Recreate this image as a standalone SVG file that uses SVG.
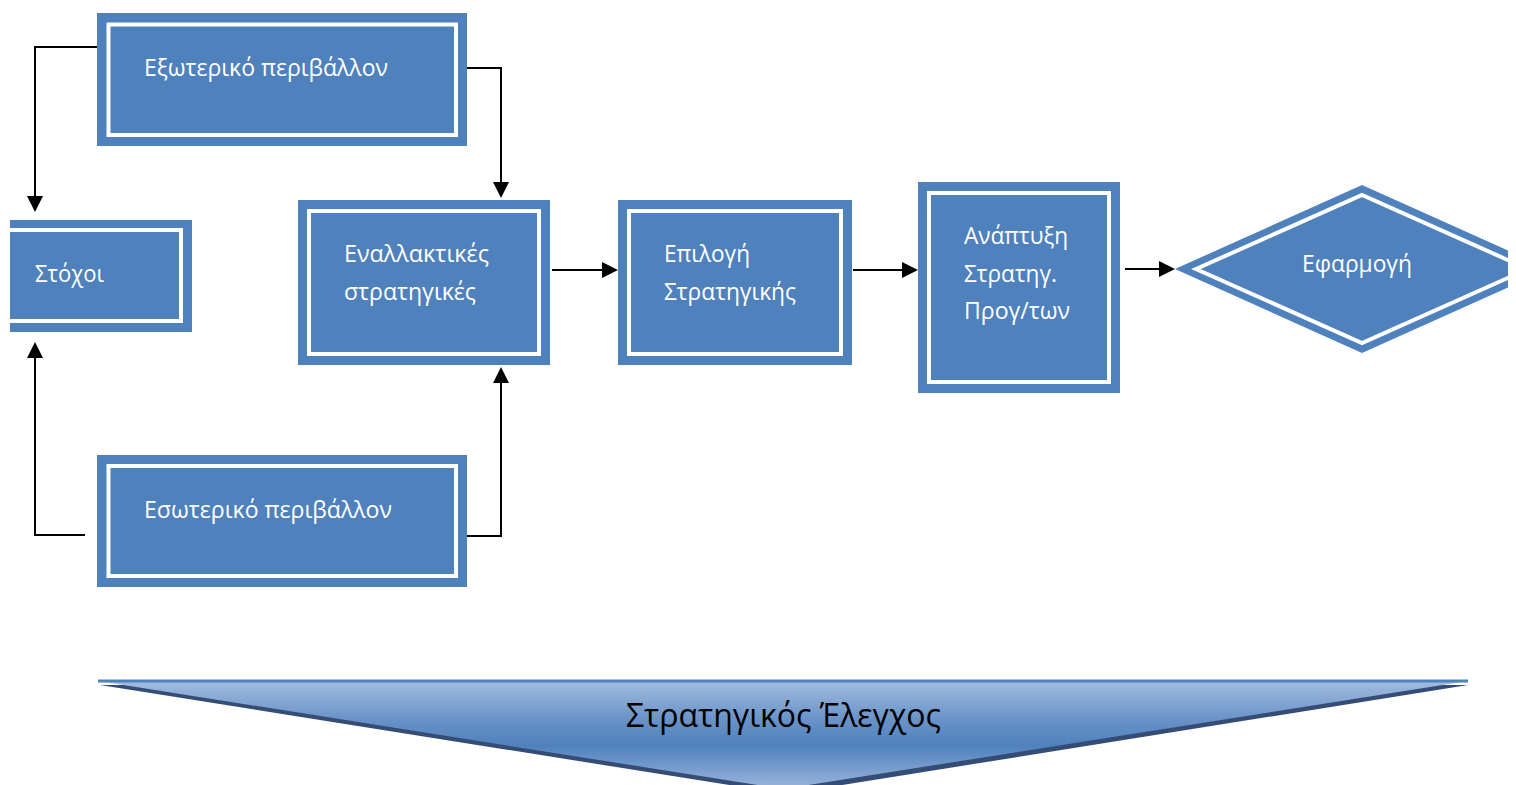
<svg xmlns="http://www.w3.org/2000/svg" width="1516" height="785" viewBox="0 0 1516 785">
  <style>
    .box { fill: #4F81BD; }
    .rim { fill: none; stroke: #FFFFFF; stroke-width: 4; }
    .lbl { font-family: "Open Sans", "Noto Sans", sans-serif; font-size: 23.5px; fill: #FFFFFF; }
    .wire { fill: none; stroke: #000000; stroke-width: 2; }
    .head { fill: #000000; }
    .ctl { font-family: "Open Sans", "Noto Sans", sans-serif; font-size: 33px; fill: #000000; }
  </style>
  <defs>
    <clipPath id="leftCut"><rect x="10" y="0" width="1506" height="785"/></clipPath>
    <clipPath id="rightCut"><rect x="0" y="0" width="1508" height="785"/></clipPath>
    <linearGradient id="ctlFill" x1="0" y1="0" x2="0" y2="1" gradientUnits="objectBoundingBox">
      <stop offset="0" stop-color="#A3BDDF"/>
      <stop offset="0.35" stop-color="#6A93C8"/>
      <stop offset="0.6" stop-color="#4F81BD"/>
      <stop offset="1" stop-color="#9BB6DC"/>
    </linearGradient>
  </defs>

  <!-- connectors -->
  <g id="connectors">
    <polyline class="wire" points="97,47 35,47 35,197"/>
    <polygon class="head" points="27,196 43,196 35,212"/>
    <polyline class="wire" points="467,68 501,68 501,183"/>
    <polygon class="head" points="493,182 509,182 501,198"/>
    <polyline class="wire" points="85,535 35,535 35,357"/>
    <polygon class="head" points="27,358 43,358 35,342"/>
    <polyline class="wire" points="454,536 501,536 501,382"/>
    <polygon class="head" points="493,383 509,383 501,367"/>
    <line class="wire" x1="552" y1="270" x2="603" y2="270"/>
    <polygon class="head" points="602,262 602,278 618,270"/>
    <line class="wire" x1="853" y1="270" x2="903" y2="270"/>
    <polygon class="head" points="902,262 902,278 918,270"/>
    <line class="wire" x1="1125" y1="269" x2="1160" y2="269"/>
    <polygon class="head" points="1159,261 1159,277 1175,269"/>
  </g>

  <g id="node-external">
    <rect class="box" x="97" y="13" width="370" height="133"/>
    <rect class="rim" x="108.5" y="24.5" width="347.5" height="110.5"/>
    <text class="lbl" x="144" y="76" textLength="244" lengthAdjust="spacingAndGlyphs">Εξωτερικό περιβάλλον</text>
  </g>

  <g id="node-goals" clip-path="url(#leftCut)">
    <rect class="box" x="0" y="220" width="192" height="112"/>
    <rect class="rim" x="-5" y="230" width="186" height="91"/>
    <text class="lbl" x="35" y="282" textLength="69" lengthAdjust="spacingAndGlyphs">Στόχοι</text>
  </g>

  <g id="node-alternatives">
    <rect class="box" x="298" y="200" width="252" height="165"/>
    <rect class="rim" x="309" y="211" width="230" height="143"/>
    <text class="lbl" x="344" y="262" textLength="145" lengthAdjust="spacingAndGlyphs">Εναλλακτικές</text>
    <text class="lbl" x="344" y="300" textLength="132" lengthAdjust="spacingAndGlyphs">στρατηγικές</text>
  </g>

  <g id="node-internal">
    <rect class="box" x="97" y="455" width="370" height="132"/>
    <rect class="rim" x="108.5" y="466" width="347.5" height="110"/>
    <text class="lbl" x="144" y="518" textLength="248" lengthAdjust="spacingAndGlyphs">Εσωτερικό περιβάλλον</text>
  </g>

  <g id="node-choice">
    <rect class="box" x="618" y="200" width="234" height="165"/>
    <rect class="rim" x="629" y="211" width="212" height="143"/>
    <text class="lbl" x="664" y="262" textLength="86" lengthAdjust="spacingAndGlyphs">Επιλογή</text>
    <text class="lbl" x="664" y="300" textLength="132" lengthAdjust="spacingAndGlyphs">Στρατηγικής</text>
  </g>

  <g id="node-programs">
    <rect class="box" x="918" y="182" width="202" height="211"/>
    <rect class="rim" x="929" y="193" width="180" height="189"/>
    <text class="lbl" x="964" y="244" textLength="104" lengthAdjust="spacingAndGlyphs">Ανάπτυξη</text>
    <text class="lbl" x="964" y="282" textLength="93" lengthAdjust="spacingAndGlyphs">Στρατηγ.</text>
    <text class="lbl" x="964" y="319" textLength="106" lengthAdjust="spacingAndGlyphs">Προγ/των</text>
  </g>

  <g id="node-implementation" clip-path="url(#rightCut)">
    <polygon class="box" points="1175,269 1362,185 1549,269 1362,353"/>
    <polygon class="rim" points="1196,269 1362,195 1528,269 1362,343"/>
    <text class="lbl" x="1302" y="272" textLength="110" lengthAdjust="spacingAndGlyphs">Εφαρμογή</text>
  </g>

  <g id="node-control">
    <polygon points="100,685 1468,685 786,794" fill="#1F3A66" opacity="0.9"/>
    <polygon points="98,681 1468,681 783,789" fill="url(#ctlFill)"/>
    <line x1="98" y1="681" x2="1468" y2="681" stroke="#4F81BD" stroke-width="3"/>
    <text class="ctl" x="626" y="727" textLength="315" lengthAdjust="spacingAndGlyphs">Στρατηγικός Έλεγχος</text>
  </g>
</svg>
